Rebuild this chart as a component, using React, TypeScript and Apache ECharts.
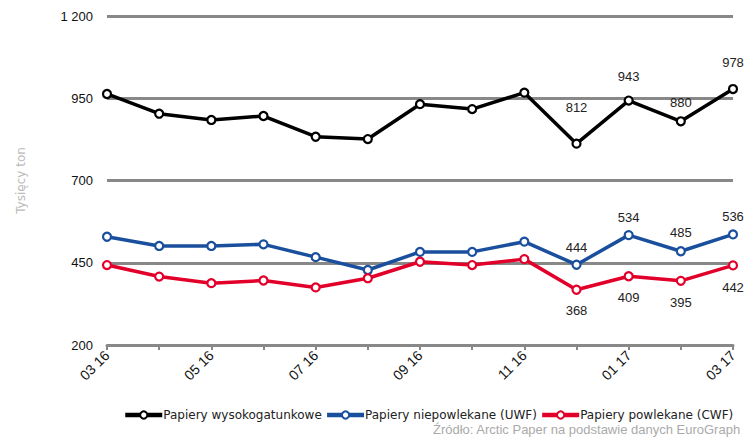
import React, { useEffect, useRef } from "react";
import * as echarts from "echarts";

const categories = ["03 16", "04 16", "05 16", "06 16", "07 16", "08 16", "09 16", "10 16", "11 16", "12 16", "01 17", "02 17", "03 17"];
const seriesNames = ["Papiery wysokogatunkowe", "Papiery niepowlekane (UWF)", "Papiery powlekane (CWF)"];
const highQuality = [963, 903, 884, 896, 833, 826, 932, 917, 967, 812, 943, 880, 978];
const uncoated = [529, 501, 501, 506, 467, 428, 483, 483, 514, 444, 534, 485, 536];
const coated = [443, 408, 388, 396, 375, 403, 453, 443, 461, 368, 409, 395, 442];
const labeledFrom = 9;
const yTicks = { min: 200, max: 1200, interval: 250 };
const yAxisName = "Tysięcy ton";
const sourceText = "Źródło: Arctic Paper na podstawie danych EuroGraph";

// style-only: label vertical offsets for labelled points (index 9..12)
const blackOffsets = [-20, -7, -2, -10];
const blueOffsets = [-1, -1, -2, -1];
const redOffsets = [4, 5, 5, 6];

const colors = ["#000000", "#1a4f9e", "#e2002b"];
const arial = "'Liberation Sans', Arial, sans-serif";

function buildData(values: number[], offsets: number[], pos: string) {
  return values.map((v, i) => {
    if (i < labeledFrom) return { value: v, label: { show: false } };
    return {
      value: v,
      label: {
        show: true,
        position: pos,
        offset: [0, offsets[i - labeledFrom]],
      },
    };
  });
}

export default function App() {
  const ref = useRef<HTMLDivElement>(null);
  useEffect(() => {
    document.body.style.margin = "0";
    if (!ref.current) return;
    const chart = echarts.init(ref.current, undefined, { renderer: "svg" });
    const mk = (idx: number, values: number[], offsets: number[], pos: string) => ({
      name: seriesNames[idx],
      type: "line",
      data: buildData(values, offsets, pos),
      color: colors[idx],
      symbol: "circle",
      symbolSize: 8,
      showAllSymbol: true,
      lineStyle: { color: colors[idx], width: 3.5 },
      itemStyle: { color: "#ffffff", borderColor: colors[idx], borderWidth: 2.2 },
      label: { fontFamily: arial, fontSize: 13, fontWeight: "normal", color: "#222" },
      emphasis: { disabled: true },
      z: 3 + idx,
    });
    chart.setOption({
      animation: false,
      grid: { left: 107, right: 11, top: 16, bottom: 92 },
      legend: {
        left: 118,
        top: 404,
        itemGap: 3,
        itemWidth: 37,
        itemHeight: 9,
        lineStyle: { width: 4.5 },
        textStyle: { fontFamily: "DejaVu Sans", fontSize: 12, color: "#222", padding: [0, 0, 0, -4] },
        data: seriesNames,
      },
      xAxis: {
        type: "category",
        data: categories,
        boundaryGap: false,
        axisLine: { lineStyle: { color: "#888", width: 3 } },
        axisTick: { show: true, interval: 0, length: 5, lineStyle: { color: "#888", width: 2 } },
        axisLabel: {
          interval: 1,
          rotate: 45,
          margin: 8,
          fontFamily: arial,
          fontSize: 14,
          color: "#111",
        },
      },
      yAxis: {
        type: "value",
        min: yTicks.min,
        max: yTicks.max,
        interval: yTicks.interval,
        name: yAxisName,
        nameLocation: "middle",
        nameRotate: 90,
        nameGap: 80,
        nameTextStyle: { fontFamily: "DejaVu Sans", fontSize: 12, color: "#bbbbbb" },
        axisLine: { show: false },
        axisTick: { show: false },
        splitLine: { lineStyle: { color: "#888", width: 3 } },
        axisLabel: {
          margin: 14,
          fontFamily: arial,
          fontSize: 13,
          color: "#111",
          formatter: (v: number) => (v >= 1000 ? `${Math.floor(v / 1000)} ${String(v % 1000).padStart(3, "0")}` : String(v)),
        },
      },
      graphic: [
        {
          type: "text",
          left: 433,
          top: 423,
          style: { text: sourceText, fontFamily: arial, fontSize: 13, fill: "#aaaaaa" },
        },
      ],
      series: [
        mk(0, highQuality, blackOffsets, "top"),
        mk(1, uncoated, blueOffsets, "top"),
        mk(2, coated, redOffsets, "bottom"),
      ],
    });
    return () => chart.dispose();
  }, []);
  return <div ref={ref} style={{ width: 744, height: 437 }} />;
}
